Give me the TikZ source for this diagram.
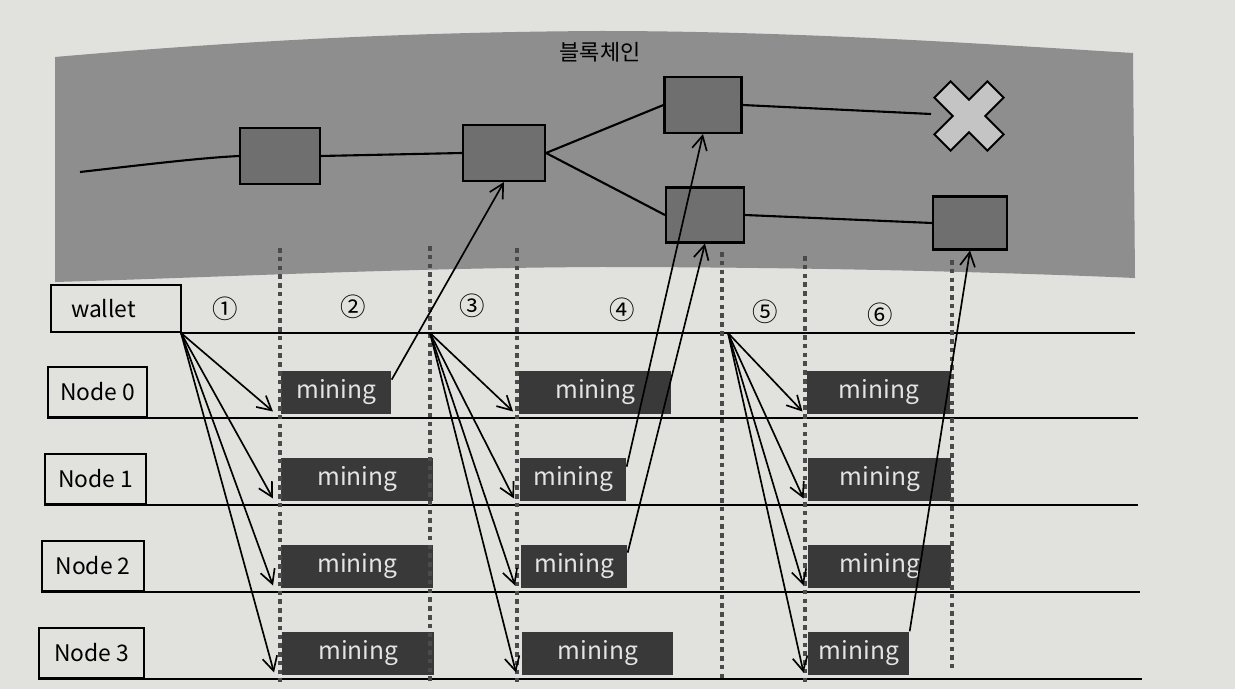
\documentclass[tikz,border=0pt]{standalone}
\usepackage{fontspec}
\setmainfont{Noto Sans CJK KR}
\usetikzlibrary{arrows.meta,calc}
\definecolor{paper}{HTML}{E1E1DE}
\definecolor{panelgray}{HTML}{8E8E8E}
\definecolor{blockgray}{HTML}{6F6F6F}
\definecolor{xgray}{HTML}{C4C4C4}
\definecolor{minegray}{HTML}{393939}
\definecolor{minetext}{HTML}{E4E4E4}
\definecolor{dotgray}{HTML}{4A4A4A}
\begin{document}
\begin{tikzpicture}[x=0.02cm,y=-0.02cm,
  blk/.style={draw=black, line width=1.2pt, fill=blockgray, inner sep=0pt},
  mine/.style={fill=minegray, text=minetext, minimum height=0.86cm, inner sep=0pt, anchor=south west, font=\fontsize{14}{16}\selectfont},
  lbl/.style={draw=black, line width=1.2pt, fill=paper, minimum height=1cm, inner sep=0pt, anchor=south west, font=\fontsize{13}{15}\selectfont},
  tl/.style={line width=1.2pt},
  chain/.style={line width=1.2pt},
  arr/.style={line width=0.95pt, -{Straight Barb[length=0.28cm,width=0.3cm]}},
  dots/.style={draw=dotgray, line width=2.2pt, dash pattern=on 2.6pt off 2.4pt},
  num/.style={font=\fontsize{14.5}{16}\selectfont}
]
% paper
\fill[paper] (0,0) rectangle (1235,689);
\useasboundingbox (0,0) rectangle (1235,689);

% blockchain panel
\fill[panelgray] (55,57) .. controls (250,40) and (420,32) .. (600,31)
  .. controls (800,31) and (1000,45) .. (1133,53) -- (1135,278)
  .. controls (950,270) and (750,267) .. (600,267)
  .. controls (400,268) and (200,278) .. (55,282) -- cycle;
\node[font=\fontsize{12.5}{14}\selectfont] (title) at (600,52) {블록체인};

% blocks
\node[blk, minimum width=1.6cm, minimum height=1.12cm] (b1) at (280,156) {};
\node[blk, minimum width=1.64cm, minimum height=1.12cm] (b2) at (504,153) {};
\node[blk, minimum width=1.54cm, minimum height=1.12cm] (b3) at (703,105) {};
\node[blk, minimum width=1.56cm, minimum height=1.1cm] (b4) at (705,215) {};
\node[blk, minimum width=1.48cm, minimum height=1.06cm] (b5) at (970,223) {};

% rejected block (X)
\begin{scope}[shift={(969,116)}, rotate=45]
  \def\w{11.5}\def\L{37.5}
  \filldraw[fill=xgray, draw=black, line width=1.1pt]
    (-\w,-\L) -- (\w,-\L) -- (\w,-\w) -- (\L,-\w) -- (\L,\w) -- (\w,\w) -- (\w,\L)
    -- (-\w,\L) -- (-\w,\w) -- (-\L,\w) -- (-\L,-\w) -- (-\w,-\w) -- cycle;
\end{scope}
\coordinate (xend) at (931,114);
\coordinate (c0) at (80,172);

% chain lines
\draw[chain] (c0) .. controls (150,164) and (200,158) .. (b1.west);
\draw[chain] (b1.east) -- (b2.west);
\draw[chain] (b2.east) -- (b3.west);
\draw[chain] (b2.east) -- (b4.west);
\draw[chain] (b3.east) -- (xend);
\draw[chain] (b4.east) -- (b5.west);

% left labels
\node[lbl, minimum width=2.6cm, text width=1.8cm, inner xsep=0.4cm, align=left, minimum height=0.94cm] (wal) at (50,333) {wallet};
\node[lbl, minimum width=1.98cm] (n0) at (47,418) {Node 0};
\node[lbl, minimum width=2.02cm] (n1) at (44,505) {Node 1};
\node[lbl, minimum width=2.04cm] (n2) at (41,592) {Node 2};
\node[lbl, minimum width=2.1cm] (n3) at (38,679) {Node 3};

% timelines
\draw[tl] (wal.south east) -- (1135,333);
\draw[tl] (n0.south west) -- (1138,418);
\draw[tl] (n1.south west) -- (1138,505);
\draw[tl] (n2.south west) -- (1140,592);
\draw[tl] (n3.south west) -- (1142,679);

% step numbers
\node[num] (s1) at (225,309) {①};
\node[num] (s2) at (353,307) {②};
\node[num] (s3) at (472,306) {③};
\node[num] (s4) at (622,310) {④};
\node[num] (s5) at (765,312) {⑤};
\node[num] (s6) at (880,315) {⑥};

% mining boxes
\node[mine, minimum width=2.2cm]  (m10) at (281,414) {mining};
\node[mine, minimum width=3.04cm] (m11) at (281,501) {mining};
\node[mine, minimum width=3.04cm] (m12) at (281,588) {mining};
\node[mine, minimum width=3.04cm] (m13) at (282,675) {mining};
\node[mine, minimum width=3.04cm] (m20) at (519,414) {mining};
\node[mine, minimum width=2.12cm] (m21) at (520,501) {mining};
\node[mine, minimum width=2.12cm] (m22) at (521,588) {mining};
\node[mine, minimum width=3.02cm] (m23) at (522,675) {mining};
\node[mine, minimum width=2.86cm] (m30) at (807,414) {mining};
\node[mine, minimum width=2.86cm] (m31) at (808,501) {mining};
\node[mine, minimum width=2.86cm] (m32) at (808,588) {mining};
\node[mine, minimum width=2.02cm] (m33) at (808,675) {mining};

% dotted separators
\draw[dots] (280,248) -- (280,682);
\draw[dots] (430,246) -- (430,682);
\draw[dots] (517,248) -- (517,682);
\draw[dots] (722,252) -- (722,682);
\draw[dots] (805,256) -- (805,682);
\draw[dots] (952,260) -- (952,668);

% broadcast arrows
\coordinate (o1) at (181,333);
\coordinate (o2) at (430,333);
\coordinate (o3) at (728,333);
\foreach \m in {m10,m11,m12,m13}
  \draw[arr] (o1) -- ([xshift=-0.16cm,yshift=0.05cm]\m.south west);
\foreach \m in {m20,m21,m22,m23}
  \draw[arr] (o2) -- ([xshift=-0.12cm,yshift=0.05cm]\m.south west);
\foreach \m in {m30,m31,m32,m33}
  \draw[arr] (o3) -- ([xshift=-0.09cm,yshift=0.05cm]\m.south west);

% mined blocks to chain
\draw[arr] ([yshift=0.25cm]m10.east) -- (b2.south);
\draw[arr] ([yshift=0.25cm]m21.east) -- (b3.south);
\draw[arr] ([yshift=0.27cm]m22.east) -- (b4.south);
\draw[arr] (m33.north east) -- (b5.south);
\end{tikzpicture}
\end{document}
